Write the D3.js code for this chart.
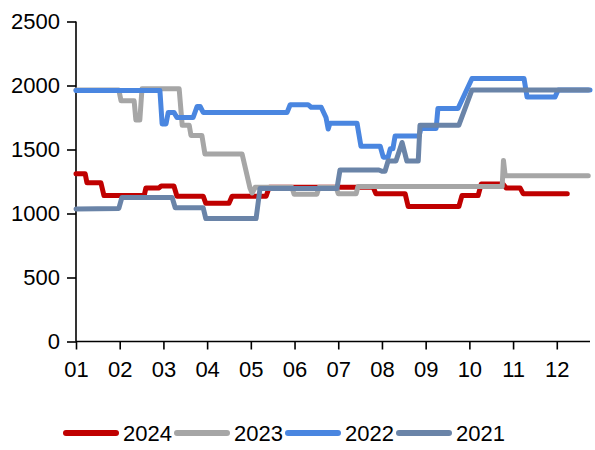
<!DOCTYPE html>
<html>
<head>
<meta charset="utf-8">
<script src="https://cdn.jsdelivr.net/npm/d3@7"></script>
<style>
  html, body { margin: 0; padding: 0; background: #fff; }
  svg { display: block; font-family: "Liberation Sans", Arial, sans-serif; }
</style>
</head>
<body>
<svg id="chart" width="595" height="450"></svg>
<script>
// ---- data (x = month position, 1 = start of Jan; y = value) ----
const monthLabels = ["01","02","03","04","05","06","07","08","09","10","11","12"];
const monthTicks = [1,2,3,4,5,6,7,8,9,10,11,12];
const yTicks = [0, 500, 1000, 1500, 2000, 2500];
const seriesNames = ["2024", "2023", "2022", "2021"];
const seriesColors = ["#C00000", "#A6A6A6", "#4A86E0", "#6A84A8"];

const x2024 = [1.00,1.21,1.25,1.57,1.64,2.56,2.60,2.90,2.95,3.24,3.31,3.91,3.97,4.50,4.57,5.35,5.42,7.80,7.86,8.53,8.60,9.76,9.83,10.20,10.27,10.77,10.84,11.16,11.23,12.24];
const y2024 = [1310,1310,1240,1240,1140,1140,1200,1200,1215,1215,1135,1135,1080,1080,1135,1135,1205,1205,1155,1155,1055,1055,1140,1140,1230,1230,1200,1200,1155,1155];

const x2023 = [1.00,1.98,2.03,2.33,2.37,2.46,2.51,3.36,3.43,3.59,3.63,3.88,3.95,4.80,4.98,5.03,5.10,5.94,5.99,6.51,6.56,6.95,7.00,7.41,7.45,10.75,10.78,10.82,12.72];
const y2023 = [1965,1965,1880,1880,1730,1730,1975,1975,1690,1690,1610,1610,1465,1465,1200,1160,1205,1205,1150,1150,1205,1205,1155,1155,1210,1210,1415,1295,1295];

const x2022 = [1.00,2.92,2.97,3.06,3.11,3.24,3.31,3.68,3.77,3.84,3.91,5.83,5.90,6.31,6.38,6.61,6.72,6.77,6.81,7.43,7.52,7.96,8.03,8.14,8.19,8.25,8.30,8.85,8.89,9.24,9.28,9.74,10.06,11.25,11.32,11.96,12.03,12.76];
const y2022 = [1960,1960,1700,1700,1790,1790,1750,1750,1836,1836,1790,1790,1850,1850,1830,1830,1750,1660,1705,1705,1525,1525,1440,1440,1505,1505,1605,1605,1665,1665,1820,1820,2055,2055,1910,1910,1965,1965];

const x2021 = [1.00,1.98,2.05,3.20,3.27,3.91,3.97,5.12,5.21,6.97,7.04,7.93,8.00,8.07,8.14,8.32,8.46,8.57,8.83,8.87,9.76,10.06,12.72];
const y2021 = [1035,1040,1125,1125,1045,1045,960,960,1195,1195,1340,1340,1330,1330,1410,1410,1555,1410,1410,1690,1690,1965,1965];

const seriesX = [x2024, x2023, x2022, x2021];
const seriesY = [y2024, y2023, y2022, y2021];

// ---- layout ----
const svg = d3.select("#chart");
const padL = 76, padR = 590, padT = 21.5, padB = 341.5;
const fontSize = 22;

const x = d3.scaleLinear().domain([1, 12.76]).range([padL, padR]);
const y = d3.scaleLinear().domain([0, 2500]).range([padB, padT]);

// axes
const yAxis = d3.axisLeft(y).tickValues(yTicks).tickSize(9).tickPadding(7).tickFormat(d3.format("d"));
const xAxis = d3.axisBottom(x).tickValues(monthTicks).tickSize(8).tickPadding(12)
  .tickFormat((d, i) => monthLabels[i]);

const gy = svg.append("g").attr("transform", `translate(${padL},0)`).call(yAxis);
const gx = svg.append("g").attr("transform", `translate(0,${padB})`).call(xAxis);
[gx, gy].forEach(g => {
  g.select(".domain").attr("stroke", "#000").attr("stroke-width", 1.6);
  g.selectAll(".tick line").attr("stroke", "#000").attr("stroke-width", 1.6);
  g.selectAll("text").attr("fill", "#000").style("font-size", fontSize + "px")
    .style("font-family", "'Liberation Sans', Arial, sans-serif");
});
gy.select(".domain").attr("d", `M0,${padT}V${padB}`);
gx.select(".domain").attr("d", `M${padL},0H${padR}`);

// lines (2024 drawn first, 2021 on top)
const line = d3.line().x(d => x(d[0])).y(d => y(d[1])).curve(d3.curveLinear);
seriesNames.forEach((name, i) => {
  const pts = seriesX[i].map((xv, j) => [xv, seriesY[i][j]]);
  svg.append("path")
    .datum(pts)
    .attr("d", line)
    .attr("fill", "none")
    .attr("stroke", seriesColors[i])
    .attr("stroke-width", 5)
    .attr("stroke-linejoin", "round")
    .attr("stroke-linecap", "round");
});

// legend
const legendY = 433, legendX0 = 66, itemW = 111, swatchLen = 50;
const lg = svg.append("g");
seriesNames.forEach((name, i) => {
  const lx = legendX0 + i * itemW;
  lg.append("line")
    .attr("x1", lx).attr("x2", lx + swatchLen)
    .attr("y1", legendY).attr("y2", legendY)
    .attr("stroke", seriesColors[i]).attr("stroke-width", 6)
    .attr("stroke-linecap", "round");
  lg.append("text")
    .attr("x", lx + swatchLen + 7)
    .attr("y", legendY)
    .attr("dy", "0.35em")
    .attr("fill", "#000")
    .style("font-size", fontSize + "px")
    .text(name);
});
</script>
</body>
</html>
